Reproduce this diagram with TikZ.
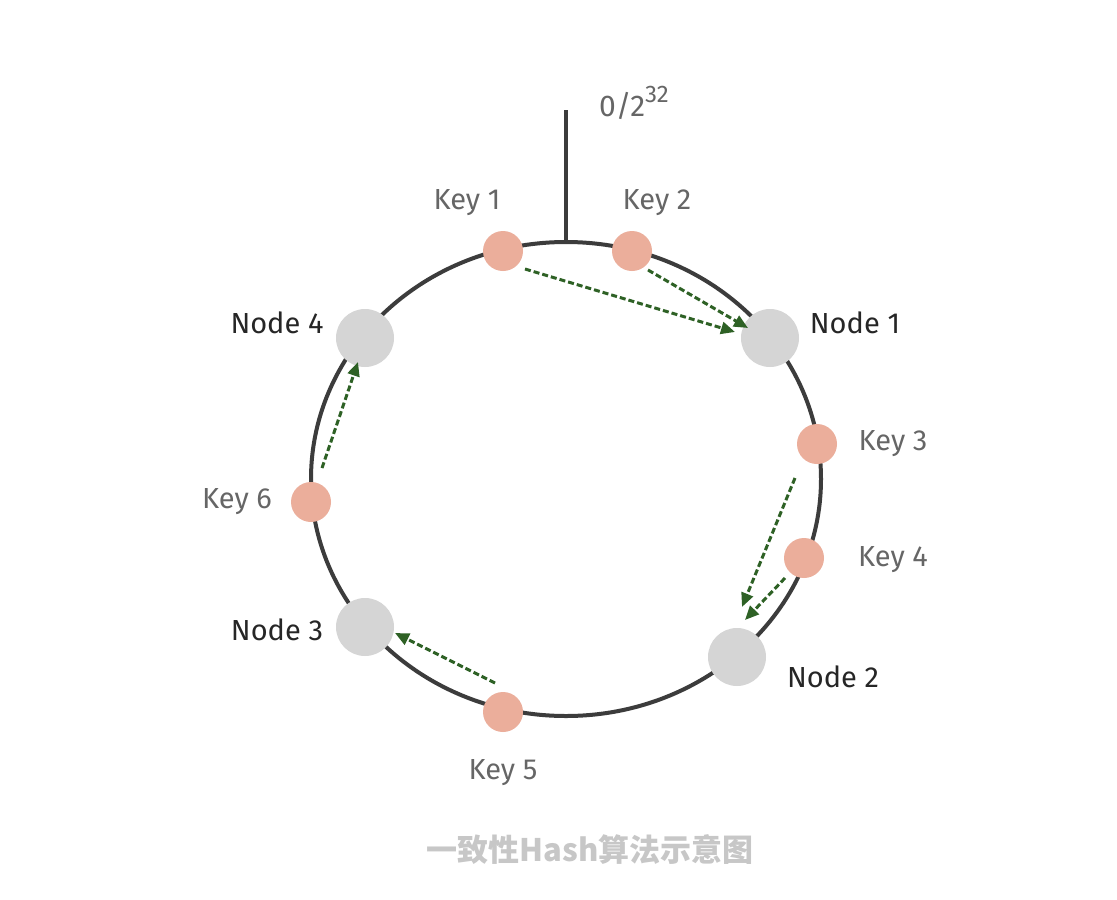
\documentclass[tikz,border=0pt]{standalone}
\usepackage{fontspec}
\setmainfont{Fira Sans}
\newfontfamily\cjk{Noto Sans CJK SC}
\usetikzlibrary{arrows.meta}
\definecolor{keyc}{HTML}{EBAE9B}
\definecolor{nodec}{HTML}{D5D5D5}
\definecolor{arr}{HTML}{2E6125}
\definecolor{ring}{HTML}{3C3C3C}
\tikzset{
 keydot/.style={circle,fill=keyc,minimum size=40pt,inner sep=0},
 nodedot/.style={circle,fill=nodec,minimum size=58pt,inner sep=0},
 keylbl/.style={text=black!60,font=\fontsize{29}{33}\selectfont},
 nodelbl/.style={text=black!85,font=\fontsize{29}{33}\selectfont},
 maparrow/.style={draw=arr,line width=3pt,dash pattern=on 6pt off 3pt,-{Triangle[length=14pt,width=12pt]}}
}
\begin{document}
\begin{tikzpicture}[x=1pt,y=-1pt]
\useasboundingbox[fill=white] (0,0) rectangle (1117,900);
\draw[ring,line width=4pt] (566,479) ellipse [x radius=255,y radius=237];
\coordinate (top) at (566,110);
\coordinate (ringtop) at (566,242);
\draw[ring,line width=4pt] (top) -- (ringtop);
\node[text=black!60,font=\fontsize{30}{34}\selectfont] (zero) at (634,103) {0/2\raisebox{14pt}{\fontsize{24}{28}\selectfont 32}};
\node[keydot] (k1) at (503,251) {};
\node[keydot] (k2) at (632,251) {};
\node[keydot] (k3) at (817,444) {};
\node[keydot] (k4) at (804,558) {};
\node[keydot] (k5) at (503,712) {};
\node[keydot] (k6) at (311,502) {};
\node[nodedot] (n1) at (770,338) {};
\node[nodedot] (n2) at (737,657) {};
\node[nodedot] (n3) at (365,627) {};
\node[nodedot] (n4) at (365,338) {};
\node[keylbl] (l1) at (467,203) {Key 1};
\node[keylbl] (l2) at (657,203) {Key 2};
\node[keylbl] (l3) at (893,444) {Key 3};
\node[keylbl] (l4) at (893,560) {Key 4};
\node[keylbl] (l5) at (503,773) {Key 5};
\node[keylbl] (l6) at (237,502) {Key 6};
\node[nodelbl] (m1) at (855,323) {Node 1};
\node[nodelbl] (m2) at (833,677) {Node 2};
\node[nodelbl] (m3) at (277,630) {Node 3};
\node[nodelbl] (m4) at (277,323) {Node 4};
\draw[maparrow] ([shift={(22,18)}]k1.center) -- ([shift={(-35,-6)}]n1.center);
\draw[maparrow] ([shift={(16,19)}]k2.center) -- ([shift={(-22,-10)}]n1.center);
\draw[maparrow] ([shift={(-22,34)}]k3.center) -- ([shift={(5,-50)}]n2.center);
\draw[maparrow] ([shift={(-19,20)}]k4.center) -- ([shift={(8,-37)}]n2.center);
\draw[maparrow] ([shift={(-8,-29)}]k5.center) -- ([shift={(30,6)}]n3.center);
\draw[maparrow] ([shift={(11,-34)}]k6.center) -- ([shift={(-7,24)}]n4.center);
\node[text=black!22,font=\cjk\bfseries\fontsize{31}{35}\selectfont] (cap) at (590,850) {一致性Hash算法示意图};
\end{tikzpicture}
\end{document}
